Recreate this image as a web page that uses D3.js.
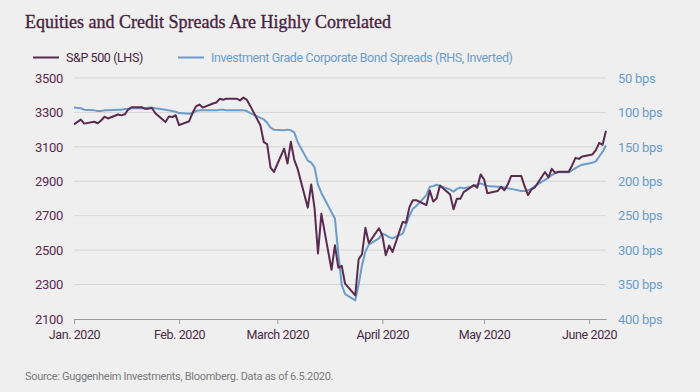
<!DOCTYPE html>
<html>
<head>
<meta charset="utf-8">
<script src="https://cdn.jsdelivr.net/npm/d3@7"></script>
<style>
  body { margin: 0; background: #efefef; }
  svg { display: block; }
  text { font-family: Roboto, sans-serif; }
</style>
</head>
<body>
<svg id="chart"></svg>
<script>
const dates = [
  "2019-12-31","2020-01-02","2020-01-03","2020-01-06","2020-01-07","2020-01-08","2020-01-09","2020-01-10",
  "2020-01-13","2020-01-14","2020-01-15","2020-01-16","2020-01-17","2020-01-20","2020-01-21","2020-01-22",
  "2020-01-23","2020-01-24","2020-01-27","2020-01-28","2020-01-29","2020-01-30","2020-01-31","2020-02-03",
  "2020-02-04","2020-02-05","2020-02-06","2020-02-07","2020-02-10","2020-02-11","2020-02-12","2020-02-13",
  "2020-02-14","2020-02-17","2020-02-18","2020-02-19","2020-02-20","2020-02-21","2020-02-24","2020-02-25",
  "2020-02-26","2020-02-27","2020-02-28","2020-03-02","2020-03-03","2020-03-04","2020-03-05","2020-03-06",
  "2020-03-09","2020-03-10","2020-03-11","2020-03-12","2020-03-13","2020-03-16","2020-03-17","2020-03-18",
  "2020-03-19","2020-03-20","2020-03-23","2020-03-24","2020-03-25","2020-03-26","2020-03-27","2020-03-30",
  "2020-03-31","2020-04-01","2020-04-02","2020-04-03","2020-04-06","2020-04-07","2020-04-08","2020-04-09",
  "2020-04-10","2020-04-13","2020-04-14","2020-04-15","2020-04-16","2020-04-17","2020-04-20","2020-04-21",
  "2020-04-22","2020-04-23","2020-04-24","2020-04-27","2020-04-28","2020-04-29","2020-04-30","2020-05-01",
  "2020-05-04","2020-05-05","2020-05-06","2020-05-07","2020-05-08","2020-05-11","2020-05-12","2020-05-13",
  "2020-05-14","2020-05-15","2020-05-18","2020-05-19","2020-05-20","2020-05-21","2020-05-22","2020-05-25",
  "2020-05-26","2020-05-27","2020-05-28","2020-05-29","2020-06-01","2020-06-02","2020-06-03","2020-06-04",
  "2020-06-05"
];

const sp500 = [
  3231, 3258, 3235, 3246, 3237, 3253, 3275, 3265,
  3288, 3283, 3289, 3317, 3330, 3330, 3321, 3322,
  3326, 3295, 3244, 3276, 3273, 3284, 3226, 3249,
  3298, 3335, 3346, 3328, 3352, 3358, 3379, 3374,
  3380, 3380, 3370, 3386, 3373, 3338, 3226, 3128,
  3116, 2979, 2954, 3090, 3003, 3130, 3024, 2972,
  2747, 2882, 2741, 2481, 2711, 2386, 2529, 2398,
  2409, 2305, 2237, 2447, 2476, 2630, 2541, 2627,
  2585, 2471, 2527, 2489, 2664, 2659, 2750, 2790,
  2790, 2762, 2846, 2783, 2800, 2875, 2823, 2737,
  2799, 2798, 2837, 2878, 2863, 2940, 2912, 2831,
  2843, 2868, 2848, 2881, 2930, 2930, 2870, 2820,
  2853, 2864, 2954, 2923, 2972, 2949, 2955, 2955,
  2992, 3036, 3030, 3044, 3056, 3081, 3123, 3112,
  3194
];

// bps, plotted on an inverted right axis
const igSpread = [
  93, 94, 96, 97, 98, 98, 97, 97,
  96, 96, 95, 95, 94, 94, 94, 93,
  93, 94, 96, 97, 98, 99, 101, 102,
  101, 98, 97, 97, 97, 97, 96, 96,
  97, 97, 97, 97, 98, 101, 108, 110,
  115, 122, 125, 126, 125, 126, 129, 143,
  170, 173, 180, 205, 217, 245, 254, 305,
  350, 364, 373, 350, 322, 302, 292, 283,
  276, 278, 281, 283, 276, 263, 250, 240,
  236, 220, 208, 207, 205, 207, 212, 215,
  211, 209, 210, 207, 205, 203, 205, 207,
  208, 208, 209, 210, 211, 214, 214, 213,
  211, 207, 198, 195, 191, 188, 187, 187,
  184, 181, 178, 176, 173, 171, 164, 157,
  148
];

const leftTicks = [2100, 2300, 2500, 2700, 2900, 3100, 3300, 3500];
const rightTicks = [50, 100, 150, 200, 250, 300, 350, 400];
const monthTicks = ["2019-12-31", "2020-01-31", "2020-02-29", "2020-03-31", "2020-04-30", "2020-05-31"];
const monthLabels = ["Jan. 2020", "Feb. 2020", "March 2020", "April 2020", "May 2020", "June 2020"];

const W = 700, H = 392;
const plot = {left: 74, right: 606, top: 78, bottom: 319};
const purple = "#5a2a4f", blue = "#6b9dca";

const parse = d3.utcParse("%Y-%m-%d");
const data = dates.map((d, i) => ({date: parse(d), sp: sp500[i], ig: igSpread[i]}));

const svg = d3.select("#chart")
  .attr("width", W)
  .attr("height", H);

svg.append("rect").attr("width", W).attr("height", H).attr("fill", "#efefef");

const x = d3.scaleUtc()
  .domain([parse(dates[0]), parse(dates[dates.length - 1])])
  .range([plot.left, plot.right]);
const yL = d3.scaleLinear().domain([2100, 3500]).range([plot.bottom, plot.top]);
const yR = d3.scaleLinear().domain([50, 400]).range([plot.top, plot.bottom]);

// title
svg.append("text")
  .attr("x", 25).attr("y", 28)
  .style("font-family", "'Liberation Serif', serif")
  .style("font-size", "18px")
  .attr("fill", "#4a1f40")
  .attr("stroke", "#4a1f40")
  .attr("stroke-width", 0.35)
  .text("Equities and Credit Spreads Are Highly Correlated");

// legend
const legendItems = [
  {label: "S&P 500 (LHS)", color: purple, textColor: "#4a1f40", x: 33},
  {label: "Investment Grade Corporate Bond Spreads (RHS, Inverted)", color: blue, textColor: blue, x: 178}
];
const legend = svg.append("g").selectAll("g")
  .data(legendItems).join("g")
  .attr("transform", d => "translate(" + d.x + ",57.5)");
legend.append("line")
  .attr("x1", 0).attr("x2", 26)
  .attr("stroke", d => d.color).attr("stroke-width", 2);
legend.append("text")
  .attr("x", 33).attr("dy", "0.35em")
  .style("font-size", "12.5px")
  .style("letter-spacing", "-0.4px")
  .attr("fill", d => d.textColor)
  .text(d => d.label);

// gridlines
svg.append("g")
  .selectAll("line")
  .data(leftTicks.slice(1))
  .join("line")
    .attr("x1", plot.left).attr("x2", plot.right)
    .attr("y1", d => yL(d)).attr("y2", d => yL(d))
    .attr("stroke", "#d6d6d6").attr("stroke-width", 1);

// left axis labels
const leftAxis = svg.append("g")
  .attr("transform", "translate(" + plot.left + ",0)")
  .call(d3.axisLeft(yL).tickValues(leftTicks).tickSize(0).tickPadding(11)
    .tickFormat(d3.format("d")));
leftAxis.select(".domain").remove();
leftAxis.selectAll("text")
  .style("font-size", "13px")
  .style("letter-spacing", "-0.3px")
  .attr("fill", purple);

// right axis labels
const rightAxis = svg.append("g")
  .attr("transform", "translate(" + plot.right + ",0)")
  .call(d3.axisRight(yR).tickValues(rightTicks).tickSize(0).tickPadding(12)
    .tickFormat(d => d + " bps"));
rightAxis.select(".domain").remove();
rightAxis.selectAll("text")
  .style("font-size", "13px")
  .style("letter-spacing", "-0.3px")
  .attr("fill", blue);

// bottom axis
const xAxis = svg.append("g")
  .attr("transform", "translate(0," + plot.bottom + ")")
  .call(d3.axisBottom(x)
    .tickValues(monthTicks.map(parse))
    .tickSize(5)
    .tickSizeOuter(0)
    .tickPadding(6)
    .tickFormat((d, i) => monthLabels[i]));
xAxis.select(".domain").attr("stroke", "#9a9a9a").attr("stroke-width", 1.2);
xAxis.selectAll(".tick line").attr("stroke", "#9a9a9a");
xAxis.selectAll("text")
  .style("font-size", "12.5px")
  .style("letter-spacing", "-0.4px")
  .attr("fill", "#4a2a45");

// lines
const spreadLine = d3.line()
  .x(d => x(d.date))
  .y(d => yR(d.ig));
const spLine = d3.line()
  .x(d => x(d.date))
  .y(d => yL(d.sp));

svg.append("path")
  .datum(data)
  .attr("fill", "none")
  .attr("stroke", blue)
  .attr("stroke-width", 2)
  .attr("stroke-linejoin", "round")
  .attr("d", spreadLine);

svg.append("path")
  .datum(data)
  .attr("fill", "none")
  .attr("stroke", purple)
  .attr("stroke-width", 2)
  .attr("stroke-linejoin", "round")
  .attr("d", spLine);

// source
svg.append("text")
  .attr("x", 25).attr("y", 380)
  .style("font-size", "11px")
  .style("letter-spacing", "-0.3px")
  .attr("fill", "#7a7a7a")
  .text("Source: Guggenheim Investments, Bloomberg. Data as of 6.5.2020.");
</script>
</body>
</html>
